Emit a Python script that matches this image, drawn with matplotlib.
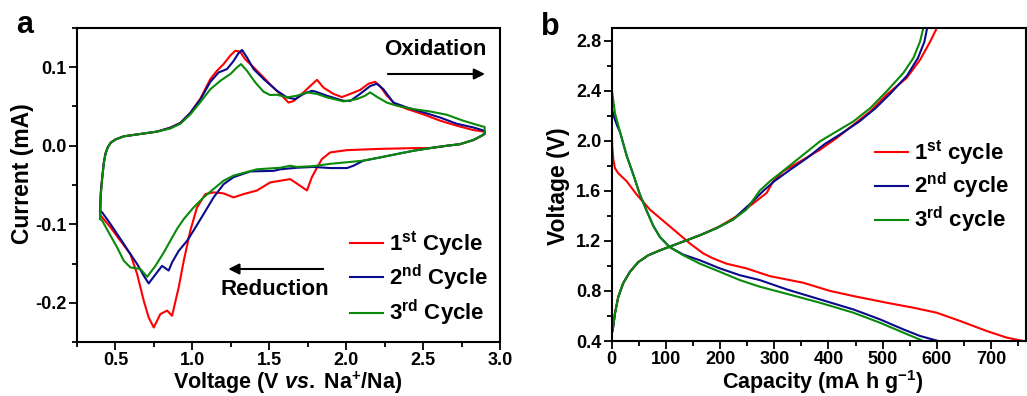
import numpy as np
import matplotlib
matplotlib.use("Agg")
import matplotlib.pyplot as plt
from matplotlib.ticker import MultipleLocator, FormatStrFormatter

plt.rcParams['font.family'] = ['Liberation Sans', 'DejaVu Sans']
plt.rcParams['font.weight'] = 'bold'
plt.rcParams['axes.unicode_minus'] = False
plt.rcParams['mathtext.fontset'] = 'custom'
plt.rcParams['mathtext.rm'] = 'Liberation Sans:bold'
plt.rcParams['mathtext.bf'] = 'Liberation Sans:bold'
plt.rcParams['mathtext.it'] = 'Liberation Sans:italic:bold'

# ---------------- Data: cyclic voltammetry (panel a) ----------------
cv1_v = [0.400, 0.405, 0.414, 0.424, 0.435, 0.450, 0.470, 0.500, 0.554, 0.662, 0.770, 0.857, 0.922, 0.987,
         1.052, 1.117, 1.160, 1.203, 1.247, 1.279, 1.310, 1.344, 1.398, 1.463, 1.517, 1.571, 1.625, 1.658,
         1.723, 1.766, 1.810, 1.853, 1.918, 1.972, 2.026, 2.090, 2.145, 2.188, 2.220, 2.264, 2.318, 2.394,
         2.502, 2.610, 2.719, 2.827, 2.900,
         2.900, 2.880, 2.827, 2.740, 2.654, 2.545, 2.437, 2.220, 2.005, 1.896, 1.842, 1.810, 1.777, 1.745,
         1.701, 1.636, 1.571, 1.506, 1.420, 1.333, 1.268, 1.203, 1.138, 1.084, 1.030, 0.987, 0.944, 0.911,
         0.868, 0.836, 0.792, 0.749, 0.716, 0.684, 0.641, 0.597, 0.532, 0.468, 0.414, 0.400]
cv1_i = [-0.088, -0.060, -0.040, -0.022, -0.010, -0.002, 0.004, 0.008, 0.012, 0.015, 0.018, 0.023, 0.029, 0.042,
         0.060, 0.085, 0.0955, 0.104, 0.115, 0.121, 0.120, 0.110, 0.100, 0.087, 0.076, 0.066, 0.055, 0.057,
         0.068, 0.076, 0.084, 0.074, 0.066, 0.062, 0.066, 0.071, 0.079, 0.0815, 0.076, 0.064, 0.053, 0.047,
         0.040, 0.032, 0.0255, 0.020, 0.018,
         0.015, 0.0127, 0.0073, 0.002, 0.000, -0.003, -0.003, -0.004, -0.0056, -0.0085, -0.017, -0.028, -0.040, -0.057,
         -0.051, -0.0425, -0.0446, -0.0467, -0.057, -0.0616, -0.0658, -0.0607, -0.0594, -0.0616, -0.0786, -0.108, -0.1465, -0.1805,
         -0.2166, -0.210, -0.2144, -0.2315, -0.2187, -0.1975, -0.1635, -0.138, -0.121, -0.104, -0.0913, -0.088]

cv2_v = [0.400, 0.405, 0.414, 0.424, 0.435, 0.450, 0.470, 0.500, 0.554, 0.662, 0.770, 0.857, 0.922, 0.987,
         1.052, 1.117, 1.171, 1.225, 1.268, 1.300, 1.323, 1.355, 1.398, 1.463, 1.550, 1.615, 1.669, 1.723,
         1.777, 1.800, 1.875, 1.983, 2.026, 2.090, 2.156, 2.199, 2.242, 2.307, 2.394, 2.502, 2.610, 2.719,
         2.827, 2.900,
         2.900, 2.880, 2.827, 2.740, 2.654, 2.545, 2.437, 2.329, 2.220, 2.112, 2.047, 2.005, 1.896, 1.788,
         1.680, 1.571, 1.528, 1.377, 1.268, 1.203, 1.138, 1.073, 1.008, 0.966, 0.911, 0.868, 0.846, 0.803,
         0.770, 0.716, 0.684, 0.641, 0.597, 0.554, 0.511, 0.468, 0.414, 0.400]
cv2_i = [-0.083, -0.058, -0.040, -0.022, -0.010, -0.002, 0.004, 0.008, 0.012, 0.015, 0.018, 0.023, 0.029, 0.042,
         0.059, 0.0815, 0.0934, 0.0977, 0.108, 0.118, 0.122, 0.1125, 0.0977, 0.085, 0.070, 0.0616, 0.0594, 0.066,
         0.070, 0.069, 0.0637, 0.0573, 0.057, 0.066, 0.076, 0.079, 0.072, 0.055, 0.0488, 0.0425, 0.036, 0.028,
         0.0233, 0.019,
         0.015, 0.0127, 0.0073, 0.002, 0.000, -0.003, -0.0064, -0.0106, -0.0149, -0.019, -0.0255, -0.0284, -0.0284, -0.027,
         -0.028, -0.030, -0.032, -0.0327, -0.040, -0.049, -0.0658, -0.087, -0.108, -0.121, -0.134, -0.1486, -0.159, -0.153,
         -0.1614, -0.1754, -0.1656, -0.1507, -0.138, -0.125, -0.1125, -0.0998, -0.085, -0.083]

cv3_v = [0.400, 0.405, 0.414, 0.424, 0.435, 0.450, 0.470, 0.500, 0.554, 0.662, 0.770, 0.857, 0.922, 0.987,
         1.052, 1.117, 1.182, 1.247, 1.290, 1.316, 1.355, 1.409, 1.463, 1.506, 1.550, 1.615, 1.680, 1.745,
         1.810, 1.875, 1.983, 2.069, 2.123, 2.156, 2.199, 2.264, 2.329, 2.437, 2.545, 2.654, 2.762, 2.870, 2.900,
         2.900, 2.880, 2.827, 2.740, 2.654, 2.545, 2.437, 2.329, 2.220, 2.112, 2.005, 1.896, 1.788, 1.680,
         1.636, 1.571, 1.420, 1.268, 1.203, 1.138, 1.073, 1.008, 0.944, 0.900, 0.857, 0.814, 0.760, 0.706,
         0.662, 0.597, 0.554, 0.511, 0.468, 0.414, 0.400]
cv3_i = [-0.093, -0.062, -0.042, -0.023, -0.011, -0.002, 0.004, 0.008, 0.012, 0.015, 0.018, 0.022, 0.028, 0.040,
         0.0556, 0.072, 0.0828, 0.0913, 0.0998, 0.104, 0.0955, 0.0807, 0.0688, 0.0646, 0.065, 0.0616, 0.0637, 0.068,
         0.066, 0.0616, 0.0565, 0.0594, 0.0637, 0.068, 0.0624, 0.055, 0.051, 0.0467, 0.0437, 0.0395, 0.0318, 0.0255, 0.024,
         0.016, 0.0127, 0.0073, 0.002, 0.000, -0.003, -0.0064, -0.0106, -0.0149, -0.019, -0.021, -0.023, -0.026, -0.027,
         -0.0255, -0.028, -0.030, -0.038, -0.0446, -0.055, -0.0658, -0.0786, -0.0934, -0.106, -0.121, -0.136, -0.153, -0.167,
         -0.157, -0.155, -0.1465, -0.1295, -0.1146, -0.0955, -0.093]

cv_labels = [r'1$^{\mathregular{st}}$ Cycle', r'2$^{\mathregular{nd}}$ Cycle', r'3$^{\mathregular{rd}}$ Cycle']

# ---------------- Data: charge/discharge (panel b) ----------------
dis1_c = [0, 1, 3, 6, 12, 27.6, 46, 70.5, 95, 119.7, 144, 168.7, 187, 211.6, 248.6, 292, 353.6, 402.8, 446,
          507, 556.6, 599.6, 642.7, 691.9, 728.8, 759.5]
dis1_v = [2.075, 1.95, 1.85, 1.78, 1.74, 1.676, 1.57, 1.45, 1.36, 1.27, 1.18, 1.10, 1.06, 1.018, 0.98, 0.918,
          0.865, 0.80, 0.759, 0.706, 0.666, 0.626, 0.56, 0.48, 0.427, 0.40]
chg1_c = [0, 2, 6, 12, 21, 33.7, 49, 67.6, 89, 113.4, 138, 162.6, 200, 230.6, 261.4, 286, 298, 316.7, 353.6,
          384.4, 415, 446, 477, 507, 544, 569, 587.7, 600]
chg1_v = [0.46, 0.49, 0.62, 0.75, 0.86, 0.953, 1.03, 1.085, 1.124, 1.164, 1.204, 1.243, 1.317, 1.397, 1.50,
          1.583, 1.676, 1.756, 1.849, 1.928, 2.021, 2.127, 2.234, 2.367, 2.50, 2.646, 2.792, 2.90]

dis2_c = [0, 5, 10, 15.3, 27.6, 39.8, 52, 64.5, 76.7, 89, 107, 132, 162.6, 199.5, 236, 273, 323, 384.4,
          446, 495, 538, 569, 602.7]
dis2_v = [2.26, 2.18, 2.12, 2.07, 1.88, 1.73, 1.57, 1.44, 1.32, 1.23, 1.15, 1.09, 1.045, 0.98, 0.926, 0.887,
          0.812, 0.732, 0.652, 0.573, 0.493, 0.44, 0.40]
chg2_c = [0, 2, 6, 12, 21, 33.7, 49, 67.6, 89, 113.4, 138, 162.6, 193, 224, 261.4, 280, 300, 330, 360, 392,
          425, 456, 487, 515, 545, 565, 577, 582]
chg2_v = [0.46, 0.49, 0.62, 0.75, 0.86, 0.953, 1.03, 1.085, 1.124, 1.164, 1.204, 1.245, 1.30, 1.37, 1.52,
          1.60, 1.676, 1.77, 1.86, 1.97, 2.06, 2.15, 2.26, 2.38, 2.52, 2.66, 2.79, 2.90]

dis3_c = [0.5, 6, 15.3, 27.6, 39.8, 52, 64.5, 76.7, 89, 107, 132, 162.6, 199.5, 236, 273, 323, 384, 446,
          495, 538, 575]
dis3_v = [2.40, 2.22, 2.07, 1.88, 1.73, 1.57, 1.44, 1.32, 1.23, 1.15, 1.085, 1.018, 0.953, 0.887, 0.834,
          0.777, 0.706, 0.626, 0.546, 0.467, 0.40]
chg3_c = [0, 2, 6, 12, 21, 33.7, 49, 67.6, 89, 113.4, 138, 162.6, 193, 224, 248.6, 273, 292, 323, 353.6,
          384.4, 415, 446, 477, 507, 538, 556.6, 569, 575]
chg3_v = [0.46, 0.49, 0.62, 0.75, 0.86, 0.953, 1.03, 1.085, 1.124, 1.164, 1.204, 1.245, 1.30, 1.37, 1.45,
          1.60, 1.676, 1.782, 1.888, 1.995, 2.074, 2.154, 2.26, 2.393, 2.54, 2.66, 2.792, 2.90]

gc_labels = [r'1$^{\mathregular{st}}$ cycle', r'2$^{\mathregular{nd}}$ cycle', r'3$^{\mathregular{rd}}$ cycle']

colors = ['#ff0000', '#0a0a8c', '#0a8a0a']

# ---------------- Figure ----------------
W, H = 1027, 396
fig = plt.figure(figsize=(W / 100, H / 100), dpi=100)

def fx(px):
    return px / W

def fy(py):
    return 1 - py / H

ax1 = fig.add_axes([fx(77), fy(342), fx(500) - fx(77), fy(28) - fy(342)])
ax2 = fig.add_axes([fx(611.7), fy(341), fx(1026.3) - fx(611.7), fy(28) - fy(341)])

lw = 1.5
for v, i, c, lab in zip([cv1_v, cv2_v, cv3_v], [cv1_i, cv2_i, cv3_i], colors, cv_labels):
    ax1.plot(v, i, color=c, lw=lw, label=lab)

for (dc, dv, cc, cv), c, lab in zip([(dis1_c, dis1_v, chg1_c, chg1_v),
                                     (dis2_c, dis2_v, chg2_c, chg2_v),
                                     (dis3_c, dis3_v, chg3_c, chg3_v)], colors, gc_labels):
    ax2.plot(dc, dv, color=c, lw=lw, label=lab)
    ax2.plot(cc, cv, color=c, lw=lw)

ax1.set_xlim(0.25, 3.0)
ax1.set_ylim(-0.25, 0.15)
ax1.xaxis.set_major_locator(MultipleLocator(0.5))
ax1.xaxis.set_minor_locator(MultipleLocator(0.25))
ax1.yaxis.set_major_locator(MultipleLocator(0.1))
ax1.yaxis.set_minor_locator(MultipleLocator(0.05))
ax1.xaxis.set_major_formatter(FormatStrFormatter('%.1f'))
ax1.yaxis.set_major_formatter(FormatStrFormatter('%.1f'))

ax2.set_xlim(0, 765)
ax2.set_ylim(0.4, 2.9)
ax2.xaxis.set_major_locator(MultipleLocator(100))
ax2.xaxis.set_minor_locator(MultipleLocator(50))
ax2.yaxis.set_major_locator(MultipleLocator(0.4))
ax2.yaxis.set_minor_locator(MultipleLocator(0.2))
ax2.xaxis.set_major_formatter(FormatStrFormatter('%d'))
ax2.yaxis.set_major_formatter(FormatStrFormatter('%.1f'))

for ax in (ax1, ax2):
    for s in ax.spines.values():
        s.set_linewidth(1.5)
    ax.tick_params(which='both', direction='out', top=False, right=False, width=1.3, labelsize=13)
    ax.tick_params(which='major', length=5.5, pad=2)
    ax.tick_params(which='minor', length=3.5)
    for t in ax.get_xticklabels() + ax.get_yticklabels():
        t.set_fontweight('bold')

# axis labels
fig.text(fx(288), fy(383), r'Voltage (V $\mathit{vs.}$ Na$^{\mathregular{+}}$/Na)', fontsize=15.5,
         fontweight='bold', ha='center', va='center')
fig.text(fx(22), fy(174), 'Current (mA)', fontsize=16.5, fontweight='bold', rotation=90,
         ha='center', va='center')
fig.text(fx(823), fy(382), r'Capacity (mA h g$^{\mathregular{-1}}$)', fontsize=15.5, fontweight='bold',
         ha='center', va='center')
fig.text(fx(558), fy(186), 'Voltage (V)', fontsize=16.5, fontweight='bold', rotation=90,
         ha='center', va='center')

# panel letters
fig.text(fx(25), fy(33), 'a', fontsize=22, fontweight='bold', ha='center', va='baseline')
fig.text(fx(550), fy(35), 'b', fontsize=22, fontweight='bold', ha='center', va='baseline')

# annotations in panel a
ax1.annotate('', xy=(0.9645, 0.8535), xytext=(0.735, 0.8535), xycoords='axes fraction',
             arrowprops=dict(arrowstyle='-|>', lw=1.5, color='k', mutation_scale=16, shrinkA=0, shrinkB=0))
ax1.text(0.846, 0.930, 'Oxidation', transform=ax1.transAxes, fontsize=16, fontweight='bold',
         ha='center', va='center')
ax1.annotate('', xy=(0.3577, 0.2325), xytext=(0.582, 0.2325), xycoords='axes fraction',
             arrowprops=dict(arrowstyle='-|>', lw=1.5, color='k', mutation_scale=16, shrinkA=0, shrinkB=0))
ax1.text(0.468, 0.167, 'Reduction', transform=ax1.transAxes, fontsize=16, fontweight='bold',
         ha='center', va='center')

leg1 = ax1.legend(loc='upper left', bbox_to_anchor=(fx(350), fy(229)), bbox_transform=fig.transFigure,
                  frameon=False, fontsize=16, handlelength=1.5, handletextpad=0.25, labelspacing=0.22,
                  borderpad=0, borderaxespad=0)
leg2 = ax2.legend(loc='upper left', bbox_to_anchor=(fx(875), fy(138)), bbox_transform=fig.transFigure,
                  frameon=False, fontsize=16, handlelength=1.5, handletextpad=0.25, labelspacing=0.18,
                  borderpad=0, borderaxespad=0)
for leg in (leg1, leg2):
    for t in leg.get_texts():
        t.set_fontweight('bold')

fig.savefig('out.png', dpi=100)
